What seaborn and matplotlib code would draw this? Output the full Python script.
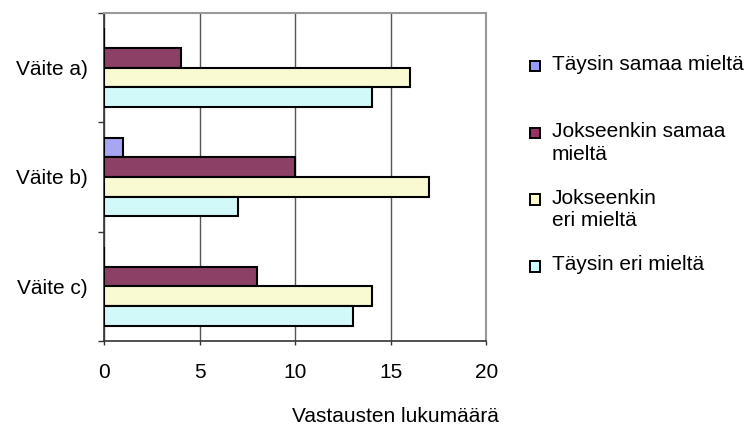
import matplotlib
matplotlib.use("Agg")
import matplotlib.pyplot as plt
from matplotlib.patches import Patch, Rectangle
from matplotlib.legend_handler import HandlerPatch
from matplotlib.ticker import FixedLocator
import seaborn as sns
import pandas as pd

categories = ["Väite a)", "Väite b)", "Väite c)"]
series = ["Täysin samaa mieltä", "Jokseenkin samaa mieltä",
          "Jokseenkin eri mieltä", "Täysin eri mieltä"]
legend_labels = ["Täysin samaa mieltä\n", "Jokseenkin samaa\nmieltä",
                 "Jokseenkin\neri mieltä", "Täysin eri mieltä\n"]
taysin_samaa = [0, 1, 0]
jokseenkin_samaa = [4, 10, 8]
jokseenkin_eri = [16, 17, 14]
taysin_eri = [14, 7, 13]
colors = ["#9999FF", "#993366", "#FFFFCC", "#CCFFFF"]
x_ticks = [0, 5, 10, 15, 20]
x_label = "Vastausten lukumäärä"

rows = []
for s, vals in zip(series, [taysin_samaa, jokseenkin_samaa, jokseenkin_eri, taysin_eri]):
    for c, v in zip(categories, vals):
        rows.append({"Väite": c, "Sarja": s, "Arvo": v})
df = pd.DataFrame(rows)

sns.set_style("white")
plt.rcParams["font.family"] = ["Liberation Sans", "DejaVu Sans"]
plt.rcParams["text.color"] = "black"
plt.rcParams["axes.labelcolor"] = "black"
plt.rcParams["xtick.color"] = "black"
plt.rcParams["ytick.color"] = "black"
FS = 15

fig = plt.figure(figsize=(7.46, 4.25), dpi=100)
ax = fig.add_axes([104 / 746, 1 - 341 / 425, 382.5 / 746, 328 / 425])

sns.barplot(data=df, y="Väite", x="Arvo", hue="Sarja", order=categories,
            hue_order=series, palette=colors, orient="h", width=0.72,
            edgecolor="black", linewidth=1.5, legend=False, ax=ax, zorder=3)

ax.set_xlim(0, 20)
ax.set_ylim(2.5, -0.5)
ax.set_xticks(x_ticks)
ax.set_xticklabels([str(t) for t in x_ticks], fontsize=FS)
ax.set_yticks(range(len(categories)))
ax.set_yticklabels(categories, fontsize=FS)
ax.yaxis.set_minor_locator(FixedLocator([-0.5, 0.5, 1.5, 2.5]))
ax.tick_params(axis="y", which="major", length=0, pad=11.5, labelcolor="black")
ax.tick_params(axis="y", which="minor", left=True, length=4.3, width=1.0, color="#333333")
ax.tick_params(axis="x", which="major", bottom=True, length=3, width=1.0,
               color="#333333", pad=13, labelcolor="black")
ax.set_ylabel("")
ax.set_xlabel(x_label, fontsize=FS, color="black")
ax.xaxis.set_label_coords((395 - 104) / 382.5, -0.2)

ax.grid(axis="x", color="#555555", linewidth=1.0, zorder=0)
ax.grid(axis="y", visible=False)
for side in ["left", "bottom"]:
    ax.spines[side].set_color("#333333")
    ax.spines[side].set_linewidth(1.2)
for side in ["top", "right"]:
    ax.spines[side].set_visible(True)
    ax.spines[side].set_color("#999999")
    ax.spines[side].set_linewidth(1.5)


def square_patch(legend, orig_handle, xdescent, ydescent, width, height, fontsize):
    size = 0.5 * fontsize
    return Rectangle((-xdescent, -ydescent + 0.58 * fontsize), size, size)


handles = [Patch(facecolor=c, edgecolor="black", linewidth=1.4) for c in colors]
leg = fig.legend(handles, legend_labels, loc="upper left",
                 bbox_to_anchor=(530 / 746, 1 - 55 / 425), frameon=False,
                 fontsize=FS, handlelength=0.5, handleheight=0.7,
                 handletextpad=0.55, labelspacing=1.2, borderpad=0,
                 borderaxespad=0,
                 handler_map={Patch: HandlerPatch(patch_func=square_patch)})
for t in leg.get_texts():
    t.set_linespacing(1.25)
    t.set_color("black")

fig.savefig("out.png", dpi=100)
